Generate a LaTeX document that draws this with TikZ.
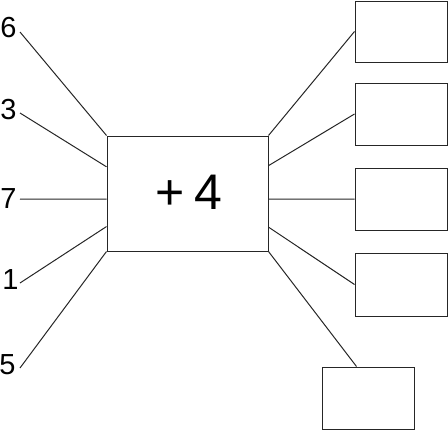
\documentclass[tikz,border=0pt]{standalone}
\usepackage{fontspec}
\setmainfont{Liberation Sans}
\usetikzlibrary{calc}
\begin{document}
\begin{tikzpicture}[x=1pt,y=-1pt,
  ln/.style={draw=black!85,line width=1pt},
  bx/.style={ln,rectangle,inner sep=0pt},
  lbl/.style={inner sep=0pt,font=\fontsize{29}{29}\selectfont}]
\useasboundingbox (0,0) rectangle (448,431);
% central box
\node[bx,minimum width=161pt,minimum height=115pt] (box) at (187.5,193.5) {};
\node[inner sep=0pt,font=\fontsize{50}{50}\selectfont] (op) at (189,192.5) {+\kern9pt4};
% right boxes
\node[bx,minimum width=92pt,minimum height=61pt] (r1) at (401,31.5) {};
\node[bx,minimum width=92pt,minimum height=62pt] (r2) at (401,114) {};
\node[bx,minimum width=92pt,minimum height=62pt] (r3) at (401,199) {};
\node[bx,minimum width=92pt,minimum height=63pt] (r4) at (401,284.5) {};
\node[bx,minimum width=92pt,minimum height=62pt] (r5) at (368,398) {};
% labels
\node[lbl] (l6) at (8.5,27.5) {6};
\node[lbl] (l3) at (8.5,110) {3};
\node[lbl] (l7) at (8.5,199) {7};
\node[lbl] (l1) at (10.5,280) {1};
\node[lbl] (l5) at (7.5,365) {5};
\coordinate (s6) at (20,32);
\coordinate (s3) at (20,113);
\coordinate (s7) at (20,199);
\coordinate (s1) at (20,283);
\coordinate (s5) at (20,368);
% left connectors
\draw[ln] (s6) -- (box.north west);
\draw[ln] (s3) -- ($(box.north west)!0.27!(box.south west)$);
\draw[ln] (s7) -- ($(box.north west)!0.548!(box.south west)$);
\draw[ln] (s1) -- ($(box.north west)!0.785!(box.south west)$);
\draw[ln] (s5) -- (box.south west);
% right connectors
\draw[ln] (box.north east) -- (r1.west);
\draw[ln] ($(box.north east)!0.26!(box.south east)$) -- (r2.west);
\draw[ln] ($(box.north east)!0.548!(box.south east)$) -- (r3.west);
\draw[ln] ($(box.north east)!0.79!(box.south east)$) -- (r4.west);
\draw[ln] (box.south east) -- ($(r5.north west)+(35,0)$);
\end{tikzpicture}
\end{document}
